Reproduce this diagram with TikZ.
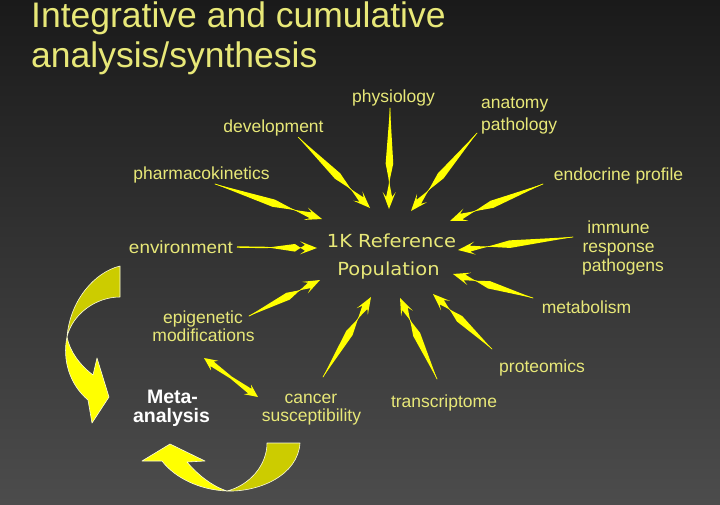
\documentclass[tikz,border=0pt]{standalone}
\usepackage{fontspec}
\usepackage{graphicx}
\setmainfont{Liberation Sans}
\newfontfamily\centerfont{DejaVu Sans}
\usetikzlibrary{calc}
\definecolor{bgtop}{RGB}{26,26,26}
\definecolor{bgbot}{RGB}{76,76,76}
\definecolor{lbl}{RGB}{232,232,120}
\definecolor{arr}{RGB}{255,255,0}
\definecolor{olivearr}{RGB}{204,204,0}
\definecolor{rim}{RGB}{250,250,220}

\newcommand\taperarrow[2]{%
  \fill[arr] (#1) -- ($(#1)!0.55!(#2)!3.8pt!90:(#2)$) -- ($(#2)!12pt!(#1)!3pt!90:(#1)$)
    -- ($(#2)!17pt!(#1)!6.5pt!90:(#1)$) -- (#2)
    -- ($(#2)!17pt!(#1)!6.5pt!-90:(#1)$) -- ($(#2)!12pt!(#1)!3pt!-90:(#1)$)
    -- ($(#1)!0.55!(#2)!3.8pt!-90:(#2)$) -- cycle;
  \draw[arr, line width=0.7pt, line cap=round] (#1) -- ($(#2)!14pt!(#1)$);}

\tikzset{
  lbltext/.style={text=lbl, inner sep=0pt, font=\fontsize{17.5}{21}\selectfont},
  titletext/.style={text=lbl, inner sep=0pt, anchor=base west, font=\fontsize{35.5}{42}\selectfont},
  centertext/.style={text=lbl, inner sep=0pt, anchor=base, font=\centerfont\fontsize{18}{22}\selectfont},
  metatext/.style={text=white, inner sep=0pt, anchor=base, font=\bfseries\fontsize{19.5}{23}\selectfont},
  olivepart/.style={fill=olivearr, draw=rim, line width=0.6pt, line join=round},
  brightpart/.style={fill=arr, draw=rim, line width=0.6pt, line join=round}
}

\begin{document}
\begin{tikzpicture}[x=1pt,y=-1pt]
\useasboundingbox (0,0) rectangle (720,504);
\shade[top color=bgtop, bottom color=bgbot] (0,0) rectangle (720,504);

% title
\node[titletext] (title1) at (31,27.5) {Integrative and cumulative};
\node[titletext] (title2) at (31,67.5) {analysis/synthesis};

% centre
\node[centertext] (ref1) at (391.5,247) {\scalebox{1.08}[1]{1K Reference}};
\node[centertext] (ref2) at (388.5,275) {\scalebox{1.08}[1]{Population}};

% labels
\node[lbltext, anchor=base] (phys) at (393.5,102) {physiology};
\node[lbltext, anchor=base west] (anat1) at (481,108) {anatomy};
\node[lbltext, anchor=base west] (anat2) at (481,130) {pathology};
\node[lbltext, anchor=base] (dev) at (273.5,132) {development};
\node[lbltext, anchor=base] (pharm) at (201.5,179) {pharmacokinetics};
\node[lbltext, anchor=base] (endo) at (618.5,180) {endocrine profile};
\node[lbltext, anchor=base] (env) at (181,253) {\scalebox{1.08}[1]{environment}};
\node[lbltext, anchor=base] (imm1) at (618.5,233) {immune};
\node[lbltext, anchor=base] (imm2) at (618.5,252) {response};
\node[lbltext, anchor=base] (imm3) at (623,271) {pathogens};
\node[lbltext, anchor=base] (metab) at (586.5,313) {metabolism};
\node[lbltext, anchor=base] (epi1) at (203,323) {epigenetic};
\node[lbltext, anchor=base] (epi2) at (203.5,341) {modifications};
\node[lbltext, anchor=base] (prot) at (542,372) {proteomics};
\node[lbltext, anchor=base] (trans) at (444,407) {transcriptome};
\node[lbltext, anchor=base] (canc1) at (311,403) {cancer};
\node[lbltext, anchor=base] (canc2) at (311.5,421) {susceptibility};
\node[metatext] (meta1) at (172.5,403) {Meta-};
\node[metatext] (meta2) at (171.5,422) {analysis};

% arrow end points
\coordinate (devT) at (298,137);   \coordinate (devH) at (370,208);
\coordinate (physT) at (390,108);  \coordinate (physH) at (389,209);
\coordinate (anatT) at (477,133);  \coordinate (anatH) at (411,211);
\coordinate (pharmT) at (215,184); \coordinate (pharmH) at (322,219);
\coordinate (endoT) at (543,184);  \coordinate (endoH) at (450,221);
\coordinate (immT) at (573,237);   \coordinate (immH) at (458,250);
\coordinate (metabT) at (533,298); \coordinate (metabH) at (453,274);
\coordinate (protT) at (492,349);  \coordinate (protH) at (433,294);
\coordinate (transT) at (437,379); \coordinate (transH) at (400,298);
\coordinate (cancT) at (323,377);  \coordinate (cancH) at (371,297);
\coordinate (epiT) at (249,316);   \coordinate (epiH) at (320,280);
\coordinate (envT) at (237,247);   \coordinate (envM) at (268,247.5); \coordinate (envH) at (317,248);
\coordinate (metaA) at (204,358);  \coordinate (metaB) at (258,397);

\taperarrow{devT}{devH}
\taperarrow{physT}{physH}
\taperarrow{anatT}{anatH}
\taperarrow{pharmT}{pharmH}
\taperarrow{endoT}{endoH}
\taperarrow{immT}{immH}
\taperarrow{metabT}{metabH}
\taperarrow{protT}{protH}
\taperarrow{transT}{transH}
\taperarrow{cancT}{cancH}
\taperarrow{epiT}{epiH}
\draw[arr, line width=1.4pt] (envT) -- (envM);
\taperarrow{envM}{envH}

% double arrow between meta-analysis and cancer susceptibility
\fill[arr] (metaA) -- ($(metaA)!13pt!(metaB)!6pt!90:(metaB)$) -- ($(metaA)!10pt!(metaB)!2.8pt!90:(metaB)$)
  -- ($(metaA)!0.5!(metaB)!1.2pt!90:(metaB)$) -- ($(metaB)!10pt!(metaA)!2.8pt!-90:(metaA)$)
  -- ($(metaB)!13pt!(metaA)!6pt!-90:(metaA)$) -- (metaB)
  -- ($(metaB)!13pt!(metaA)!6pt!90:(metaA)$) -- ($(metaB)!10pt!(metaA)!2.8pt!90:(metaA)$)
  -- ($(metaA)!0.5!(metaB)!1.2pt!-90:(metaB)$) -- ($(metaA)!10pt!(metaB)!2.8pt!-90:(metaB)$)
  -- ($(metaA)!13pt!(metaB)!6pt!-90:(metaB)$) -- cycle;

% left curved arrow
\filldraw[olivepart] (120,266) .. controls (95,272) and (70,300) .. (67,337)
  .. controls (72,315) and (95,297) .. (120,297) -- cycle;
\filldraw[brightpart] (67,337) .. controls (62,360) and (70,385) .. (88,400) -- (92,423) -- (109,397)
  -- (97,358) -- (93,375) .. controls (80,365) and (70,352) .. (67,337) -- cycle;

% bottom curved arrow
\filldraw[olivepart] (300,443) .. controls (298,475) and (260,492) .. (227,491)
  .. controls (250,485) and (267,465) .. (267,443) -- cycle;
\filldraw[brightpart] (227,491) .. controls (200,490) and (175,478) .. (162,461) -- (142,461) -- (170,444)
  -- (205,461) -- (187,462) .. controls (198,475) and (212,486) .. (227,491) -- cycle;
\end{tikzpicture}
\end{document}
